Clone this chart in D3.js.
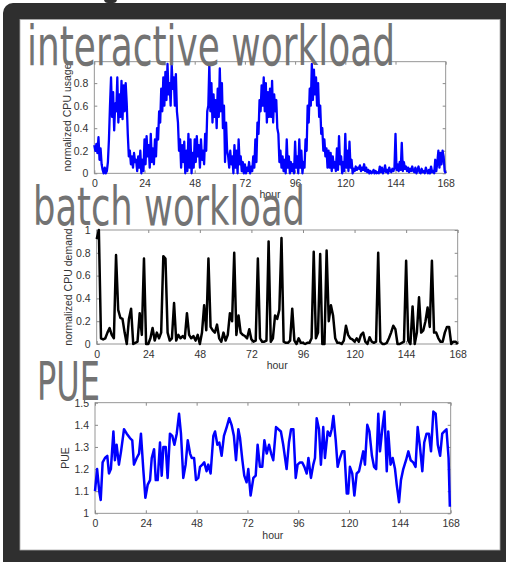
<!DOCTYPE html>
<html><head><meta charset="utf-8">
<script src="https://cdn.jsdelivr.net/npm/d3@7"></script>
<style>body{margin:0;background:#fff;}svg{display:block;}</style>
</head><body>
<script>
// ---------- DATA ----------
const hourTicks = [0, 24, 48, 72, 96, 120, 144, 168];
const titles = ["interactive workload", "batch workload", "PUE"];
const yLabels = ["normalized CPU usage", "normalized CPU demand", "PUE"];
const cpuTicks = [0, 0.2, 0.4, 0.6, 0.8];
const batchTicks = [0, 0.2, 0.4, 0.6, 0.8, 1];
const pueTicks = [1, 1.1, 1.2, 1.3, 1.4, 1.5];

// interactive workload, sampled every half hour (0 .. 168)
const interactiveStep = 0.5;
const interactive = [
0.25,0.2,0.26,0.18,0.32,0.12,0.22,0.08,
0.03,0,0.05,0,0.02,0.1,0.3,0.6,
0.85,0.5,0.72,0.38,0.62,0.55,0.85,0.45,
0.7,0.5,0.82,0.48,0.78,0.55,0.8,0.62,
0.35,0.15,0.2,0.08,0.15,0.05,0.18,0.1,
0.12,0.02,0.15,0.05,0.2,0.0,0.12,0.02,
0.3,0.08,0.33,0.15,0.25,0.05,0.35,0.1,
0.22,0.08,0.3,0.15,0.4,0.3,0.55,0.45,
0.75,0.55,0.85,0.6,0.9,0.65,0.97,0.7,
0.8,0.6,0.97,0.75,0.85,0.6,0.88,0.55,
0.45,0.2,0.3,0.05,0.25,0.1,0.28,0.0,
0.2,0.02,0.35,0.05,0.3,0.0,0.18,0.05,
0.3,0.1,0.33,0.15,0.25,0.05,0.3,0.12,
0.2,0.08,0.35,0.2,0.55,0.6,0.97,0.55,
0.8,0.45,0.7,0.5,0.65,0.4,0.75,0.5,
0.93,0.55,0.8,0.4,0.6,0.1,0.45,0.2,
0.15,0.05,0.2,0.08,0.15,0.0,0.25,0.05,
0.2,0.0,0.3,0.08,0.15,0.02,0.1,0.0,
0.08,0.0,0.05,0.02,0.1,0.0,0.06,0.02,
0.15,0.05,0.3,0.1,0.45,0.35,0.65,0.55,
0.78,0.6,0.85,0.55,0.8,0.45,0.72,0.5,
0.75,0.5,0.82,0.45,0.7,0.55,0.65,0.4,
0.35,0.1,0.2,0.05,0.15,0.02,0.12,0.0,
0.3,0.05,0.15,0.0,0.1,0.02,0.08,0.0,
0.28,0.05,0.15,0.0,0.3,0.05,0.2,0.0,
0.1,0.05,0.3,0.2,0.6,0.45,0.75,0.6,
0.97,0.65,0.92,0.7,0.85,0.6,0.8,0.5,
0.6,0.35,0.4,0.2,0.3,0.15,0.22,0.05,
0.2,0.05,0.18,0.02,0.15,0.05,0.1,0.02,
0.22,0.03,0.33,0.08,0.15,0.0,0.1,0.02,
0.35,0.05,0.2,0.02,0.28,0.05,0.12,0.0,
0.04,0.02,0.06,0.03,0.05,0.04,0.07,0.02,
0.05,0.03,0.08,0.02,0.05,0.01,0.03,0.0,
0.02,0.0,0.01,0.03,0.0,0.02,0.0,0.01,
0.0,0.06,0.01,0.05,0.0,0.02,0.07,0.01,
0.03,0.0,0.05,0.02,0.01,0.04,0.02,0.05,
0.35,0.03,0.08,0.02,0.1,0.03,0.27,0.02,
0.1,0.04,0.06,0.02,0.05,0.01,0.04,0.02,
0.06,0.02,0.01,0.05,0.0,0.03,0.06,0.01,
0.0,0.04,0.01,0.02,0.0,0.05,0.02,0.0,
0.03,0.0,0.06,0.01,0.02,0.0,0.12,0.02,
0.1,0.2,0.05,0.18,0.08,0.2,0.15,0.02,
0.0
];

// batch workload, hourly (0 .. 168)
const batch = [
0.92,1.0,0.05,0.04,0.05,0.1,0.14,0.08,0.05,0.78,
0.3,0.23,0.22,0.1,0.0,0.22,0.31,0.0,0.01,0.02,
0.27,0.08,0.75,0.0,0.0,0.05,0.14,0.03,0.1,0.05,
0.1,0.77,0.75,0.1,0.03,0.05,0.36,0.03,0.08,0.05,
0.07,0.05,0.27,0.08,0.05,0.07,0.03,0.08,0.0,0.1,
0.34,0.12,0.75,0.15,0.12,0.1,0.17,0.05,0.02,0.1,
0.03,0.08,0.27,0.2,0.8,0.08,0.25,0.1,0.08,0.07,
0.05,0.13,0.04,0.02,0.03,0.75,0.05,0.02,0.02,0.03,
0.9,0.02,0.05,0.25,0.22,0.3,0.93,0.02,0.01,0.01,
0.03,0.31,0.03,0.0,0.05,0.01,0.01,0.0,0.01,0.01,
0.05,0.81,0.05,0.1,0.79,0.0,0.0,0.82,0.2,0.34,
0.25,0.05,0.01,0.01,0.0,0.03,0.16,0.08,0.05,0.04,
0.02,0.05,0.02,0.08,0.1,0.02,0.0,0.06,0.02,0.01,
0.02,0.8,0.02,0.0,0.0,0.01,0.05,0.1,0.16,0.13,
0.0,0.0,0.01,0.02,0.73,0.03,0.0,0.33,0.0,0.1,
0.41,0.1,0.12,0.2,0.32,0.15,0.73,0.1,0.1,0.05,
0.02,0.02,0.1,0.15,0.15,0.0,0.02,0.02,0.0
];

// PUE readings (hour, value)
const pueHour = [
0,1,2,2.7,3.6,4.7,5.8,6.6,7.5,8.7,9.4,10.2,11.3,12.3,13.7,15,16.5,17.6,18.4,19.7,
20.8,21.7,22.8,23.8,24.9,26,26.8,27.9,28.7,29.6,30.7,31.5,32.3,33.4,34.3,35.4,36.5,37.5,38.6,39.7,
40.6,41.7,42.8,43.8,44.9,45.7,46.8,47.7,48.8,49.6,50.7,51.6,52.7,53.5,54.6,55.9,56.7,57.8,58.7,59.8,
60.9,62.2,63.4,64.5,65.6,66.6,67.7,68.5,69.6,70.5,71.6,72.4,73.5,74.8,75.9,76.8,77.9,79,80,81.1,
82.2,83.2,84.2,85.5,86.6,87.8,88.9,90.5,91.6,92.6,93.7,94.8,95.7,96.8,97.9,98.9,100,100.8,102,103.1,
103.9,104.7,105.8,106.7,107.8,108.6,109.9,111,111.8,112.6,113.7,114.6,115.7,116.8,117.8,118.9,119.6,120.4,121.5,122.5,
123.6,124.7,125.6,126.7,127.5,128.6,129.6,130.8,131.8,132.8,133.8,134.6,135.9,136.7,137.8,138.5,139.6,140.6,141.7,142.5,
143.6,144.5,145.6,146.9,148,149.1,150.3,151.4,152.4,153.5,154.6,155.5,156.6,157.7,158.7,159.8,160.9,161.9,163,164,
165,166,167,167.6
];
const pue = [
1.1,1.2,1.1,1.06,1.23,1.25,1.26,1.18,1.2,1.37,1.24,1.31,1.22,1.28,1.38,1.36,1.34,1.33,1.22,1.25,
1.27,1.36,1.2,1.07,1.13,1.15,1.25,1.29,1.15,1.15,1.32,1.17,1.3,1.3,1.16,1.36,1.35,1.31,1.36,1.45,
1.36,1.16,1.22,1.33,1.27,1.25,1.25,1.15,1.16,1.21,1.22,1.23,1.19,1.22,1.18,1.35,1.37,1.31,1.32,1.26,
1.35,1.39,1.43,1.4,1.35,1.24,1.38,1.34,1.24,1.17,1.14,1.2,1.08,1.16,1.17,1.31,1.21,1.21,1.33,1.27,
1.31,1.27,1.24,1.39,1.38,1.37,1.31,1.2,1.32,1.38,1.38,1.16,1.22,1.23,1.23,1.21,1.18,1.25,1.16,1.22,
1.25,1.43,1.38,1.22,1.39,1.25,1.37,1.35,1.38,1.44,1.33,1.21,1.25,1.28,1.28,1.09,1.09,1.21,1.18,1.08,
1.18,1.19,1.23,1.28,1.22,1.4,1.37,1.26,1.21,1.2,1.45,1.28,1.4,1.46,1.19,1.37,1.22,1.25,1.2,1.13,
1.05,1.15,1.2,1.24,1.28,1.24,1.23,1.21,1.39,1.3,1.19,1.32,1.36,1.36,1.28,1.46,1.45,1.31,1.26,1.36,
1.37,1.38,1.25,1.03
];

// ---------- DRAW ----------
const W = 506, H = 562;
const svg = d3.select("body").append("svg").attr("width", W).attr("height", H);

// frame
svg.append("rect").attr("x", 3).attr("y", 3).attr("width", 520).attr("height", 580)
  .attr("rx", 10).attr("fill", "#2f2f2f");
svg.append("rect").attr("x", 104).attr("y", -6).attr("width", 13).attr("height", 9)
  .attr("rx", 4).attr("fill", "#2f2f2f");
svg.append("rect").attr("x", 20).attr("y", 19.5).attr("width", 480).attr("height", 530.5)
  .attr("fill", "#fff").attr("stroke", "#aaa").attr("stroke-width", 0.8);

const tickFont = "'Liberation Sans', Arial, Helvetica, sans-serif";

const panels = [
  {x0: 94.3, x1: 445.7, yt: 61.7, yb: 173.3, dom: [0, 0.99], ticks: cpuTicks,
   data: interactive.map((v, i) => [i * interactiveStep, v]), color: "#0000ff", sw: 2.3,
   tickY: 183, hourY: 194, ylabX: 67},
  {x0: 96.7, x1: 457.7, yt: 230, yb: 344, dom: [0, 1], ticks: batchTicks,
   data: batch.map((v, i) => [i, v]), color: "#000", sw: 2.5,
   tickY: 354, hourY: 365, ylabX: 68},
  {x0: 95, x1: 450.7, yt: 402.7, yb: 513.3, dom: [1, 1.5], ticks: pueTicks,
   data: pueHour.map((h, i) => [h, pue[i]]), color: "#0000ff", sw: 2.5,
   tickY: 523, hourY: 535, ylabX: 65}
];

panels.forEach((p, k) => {
  const x = d3.scaleLinear().domain([0, 168]).range([p.x0, p.x1]);
  const y = d3.scaleLinear().domain(p.dom).range([p.yb, p.yt]);
  const g = svg.append("g");

  // box
  g.append("rect").attr("x", p.x0).attr("y", p.yt).attr("width", p.x1 - p.x0)
    .attr("height", p.yb - p.yt).attr("fill", "none").attr("stroke", "#8a8a8a").attr("stroke-width", 0.9);

  // bottom axis (ticks inward)
  const xb = g.append("g").attr("transform", `translate(0,${p.yb})`)
    .call(d3.axisBottom(x).tickValues(hourTicks).tickSizeInner(-3).tickSizeOuter(0).tickPadding(0));
  xb.select(".domain").remove();
  xb.selectAll("line").attr("stroke", "#8a8a8a");
  xb.selectAll("text").attr("y", p.tickY - p.yb).attr("dy", "0.35em")
    .attr("font-family", tickFont).attr("font-size", 10.5).attr("fill", "#333");
  // top ticks
  const xt = g.append("g").attr("transform", `translate(0,${p.yt})`)
    .call(d3.axisTop(x).tickValues(hourTicks).tickSizeInner(-3).tickSizeOuter(0).tickFormat(""));
  xt.select(".domain").remove();
  xt.selectAll("line").attr("stroke", "#8a8a8a");

  // left axis
  const yl = g.append("g").attr("transform", `translate(${p.x0},0)`)
    .call(d3.axisLeft(y).tickValues(p.ticks).tickSizeInner(-3).tickSizeOuter(0).tickPadding(6)
      .tickFormat(d3.format("~g")));
  yl.select(".domain").remove();
  yl.selectAll("line").attr("stroke", "#8a8a8a");
  yl.selectAll("text").attr("font-family", tickFont).attr("font-size", 10.5).attr("fill", "#333");
  const yr = g.append("g").attr("transform", `translate(${p.x1},0)`)
    .call(d3.axisRight(y).tickValues(p.ticks).tickSizeInner(-3).tickSizeOuter(0).tickFormat(""));
  yr.select(".domain").remove();
  yr.selectAll("line").attr("stroke", "#8a8a8a");

  // line
  g.append("path").datum(p.data)
    .attr("d", d3.line().x(d => x(d[0])).y(d => y(d[1])))
    .attr("fill", "none").attr("stroke", p.color).attr("stroke-width", p.sw)
    .attr("stroke-linejoin", "round");

  // labels
  g.append("text").attr("x", (p.x0 + p.x1) / 2).attr("y", p.hourY).attr("dy", "0.35em")
    .attr("text-anchor", "middle").attr("font-family", tickFont).attr("font-size", 10.5)
    .attr("fill", "#333").text("hour");
  g.append("text").attr("transform", `translate(${p.ylabX},${(p.yt + p.yb) / 2}) rotate(-90)`)
    .attr("dy", "0.35em").attr("text-anchor", "middle").attr("font-family", tickFont)
    .attr("font-size", 10.5).attr("fill", "#333").text(yLabels[k]);
});

// big titles
const titleFont = "'DejaVu Sans Condensed', 'Liberation Sans Narrow', 'DejaVu Sans', sans-serif";
const titleSpecs = [
  {x: 27, y: 65, w: 368, fs: 55},
  {x: 33, y: 225, w: 272, fs: 53},
  {x: 37, y: 400, w: 63, fs: 54}
];
titleSpecs.forEach((t, i) => {
  svg.append("text").attr("x", t.x).attr("y", t.y)
    .attr("font-family", titleFont).attr("font-stretch", "condensed")
    .attr("font-size", t.fs).attr("fill", "#737373")
    .attr("textLength", t.w).attr("lengthAdjust", "spacingAndGlyphs")
    .text(titles[i]);
});
</script>
</body></html>
